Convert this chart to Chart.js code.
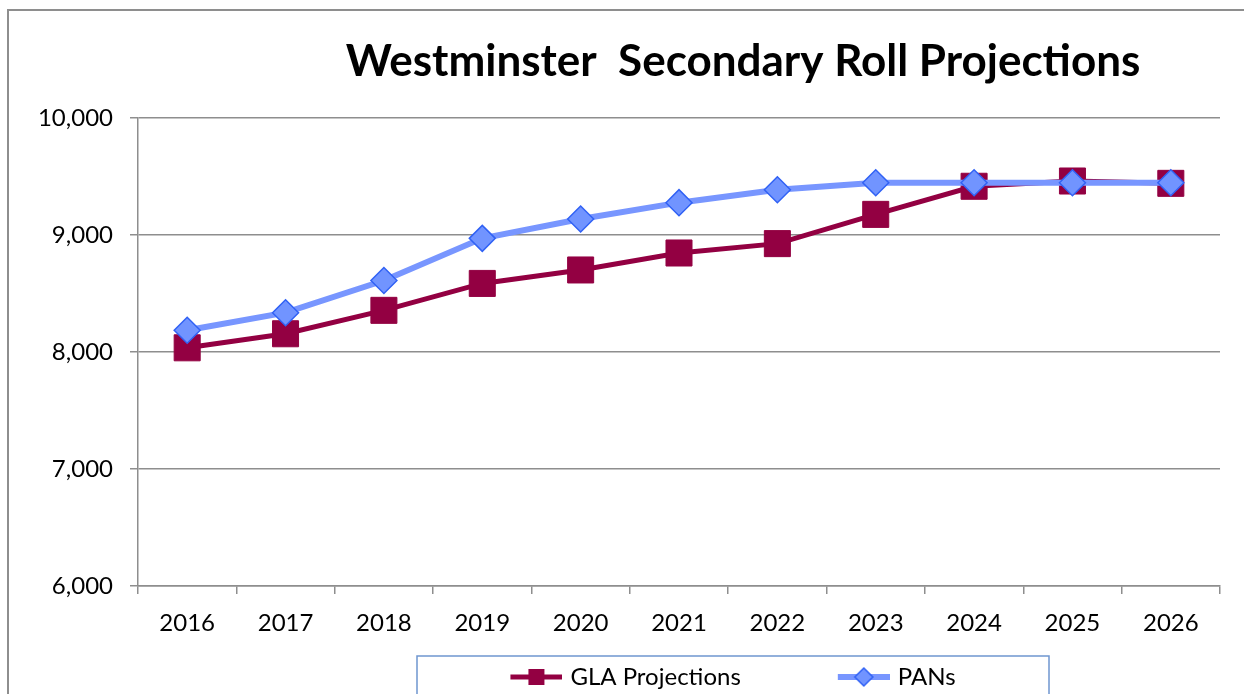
<!DOCTYPE html>
<html>
<head>
<meta charset="utf-8">
<script src="https://cdn.jsdelivr.net/npm/chart.js@4.4.0/dist/chart.umd.min.js"></script>
<style>
html, body { margin: 0; padding: 0; background: #fff; overflow: hidden; }
#frame { position: absolute; left: 7px; top: 9px; width: 1300px; height: 800px;
         border-left: 2px solid #8e8e8e; border-top: 2px solid #8e8e8e; }
#wrap { position: absolute; left: 0; top: 0; width: 1244px; height: 699px; }
</style>
</head>
<body>
<div id="frame"></div>
<div id="wrap"><canvas id="chart"></canvas></div>
<script>
// values
var years = ['2016', '2017', '2018', '2019', '2020', '2021', '2022', '2023', '2024', '2025', '2026'];
var glaProjections = [8035, 8155, 8355, 8585, 8700, 8845, 8925, 9175, 9415, 9460, 9440];
var pans = [8185, 8335, 8610, 8970, 9135, 9275, 9385, 9445, 9445, 9445, 9445];
var yTicks = [6000, 7000, 8000, 9000, 10000];

var GLA_COLOR = '#930042';
var PAN_LINE = '#7896ff';
var PAN_FILL = '#7194ff';
var PAN_EDGE = '#3162f5';
var GRID = '#8e8e8e';
var FONT = 'Lato, Calibri, "Open Sans", sans-serif';

// excel style legend key: a short line with the marker on it,
// slightly wider than the legend box so the text sits close to it
function legendKey(lineColor, lineWidth, draw) {
    var c = document.createElement('canvas');
    c.width = 148;
    c.height = 30;
    var g = c.getContext('2d');
    g.strokeStyle = lineColor;
    g.lineWidth = lineWidth;
    g.beginPath();
    g.moveTo(96, 15);
    g.lineTo(148, 15);
    g.stroke();
    draw(g, 122, 15);
    return c;
}

var glaKey = legendKey(GLA_COLOR, 5, function (g, x, y) {
    g.fillStyle = GLA_COLOR;
    g.fillRect(x - 8, y - 8, 16, 16);
});
var panKey = legendKey(PAN_LINE, 6, function (g, x, y) {
    g.fillStyle = PAN_FILL;
    g.strokeStyle = PAN_EDGE;
    g.lineWidth = 1.5;
    g.beginPath();
    g.moveTo(x, y - 9);
    g.lineTo(x + 9, y);
    g.lineTo(x, y + 9);
    g.lineTo(x - 9, y);
    g.closePath();
    g.fill();
    g.stroke();
});

var tweaks = {
    id: 'tweaks',
    afterLayout: function (chart) {
        // title and legend sit right of centre in the original
        chart.titleBlock.left += 133;
        chart.titleBlock.right += 133;
        chart.legend.left += 8;
        chart.legend.right += 8;
    },
    afterDraw: function (chart) {
        var hb = chart.legend.legendHitBoxes;
        if (!hb || hb.length < 2) return;
        var a = hb[0].left + 92;
        var b = hb[1].left + hb[1].width;
        var mid = (a + b) / 2;
        var ctx = chart.ctx;
        ctx.save();
        ctx.strokeStyle = '#6f96d0';
        ctx.lineWidth = 1.5;
        ctx.strokeRect(mid - 316, chart.legend.top - 4, 632, 80);
        ctx.restore();
    }
};

function build() {
    new Chart(document.getElementById('chart'), {
        type: 'line',
        data: {
            labels: years,
            datasets: [{
                label: 'GLA Projections',
                data: glaProjections,
                borderColor: GLA_COLOR,
                borderWidth: 5,
                pointStyle: 'rect',
                pointRadius: 18.4,
                pointBackgroundColor: GLA_COLOR,
                pointBorderColor: GLA_COLOR,
                pointBorderWidth: 1,
                tension: 0,
                order: 1
            }, {
                label: 'PANs',
                data: pans,
                borderColor: PAN_LINE,
                borderWidth: 6,
                pointStyle: 'rectRot',
                pointRadius: 13,
                pointBackgroundColor: PAN_FILL,
                pointBorderColor: PAN_EDGE,
                pointBorderWidth: 1.5,
                tension: 0,
                order: 0
            }]
        },
        options: {
            responsive: true,
            maintainAspectRatio: false,
            animation: false,
            events: [],
            layout: {padding: {left: 0, right: 24, top: 0, bottom: 0}},
            plugins: {
                title: {
                    display: true,
                    text: 'Westminster  Secondary Roll Projections',
                    color: '#000',
                    font: {family: FONT, size: 44, weight: 'bold'},
                    padding: {top: 35, bottom: 30}
                },
                legend: {
                    position: 'bottom',
                    fullSize: false,
                    labels: {
                        usePointStyle: true,
                        pointStyleWidth: 140,
                        padding: 5,
                        color: '#000',
                        font: {family: FONT, size: 24},
                        generateLabels: function () {
                            return [
                                {text: 'GLA Projections', pointStyle: glaKey, fillStyle: 'rgba(0,0,0,0)', strokeStyle: 'rgba(0,0,0,0)', lineWidth: 0, fontColor: '#000', hidden: false, datasetIndex: 0},
                                {text: 'PANs', pointStyle: panKey, fillStyle: 'rgba(0,0,0,0)', strokeStyle: 'rgba(0,0,0,0)', lineWidth: 0, fontColor: '#000', hidden: false, datasetIndex: 1}
                            ];
                        }
                    }
                },
                tooltip: {enabled: false}
            },
            scales: {
                x: {
                    offset: true,
                    ticks: {padding: 15, color: '#000', font: {family: FONT, size: 24}},
                    grid: {offset: true, drawOnChartArea: false, drawTicks: true, tickLength: 8, color: GRID, lineWidth: 1.5},
                    border: {color: GRID, width: 1.5},
                    afterFit: function (s) { s.height = 74; }
                },
                y: {
                    min: 6000,
                    max: 10000,
                    afterBuildTicks: function (s) {
                        s.ticks = yTicks.map(function (v) { return {value: v}; });
                    },
                    ticks: {
                        padding: 17,
                        color: '#000',
                        font: {family: FONT, size: 24},
                        callback: function (v) { return Number(v).toLocaleString('en-US'); }
                    },
                    grid: {color: GRID, lineWidth: 1.5, tickLength: 8},
                    border: {color: GRID, width: 1.5},
                    afterFit: function (s) { s.width = 138; }
                }
            }
        },
        plugins: [tweaks]
    });
}

Promise.all([
    document.fonts.load('bold 44px Lato'),
    document.fonts.load('24px Lato')
]).then(build, build);
</script>
</body>
</html>
